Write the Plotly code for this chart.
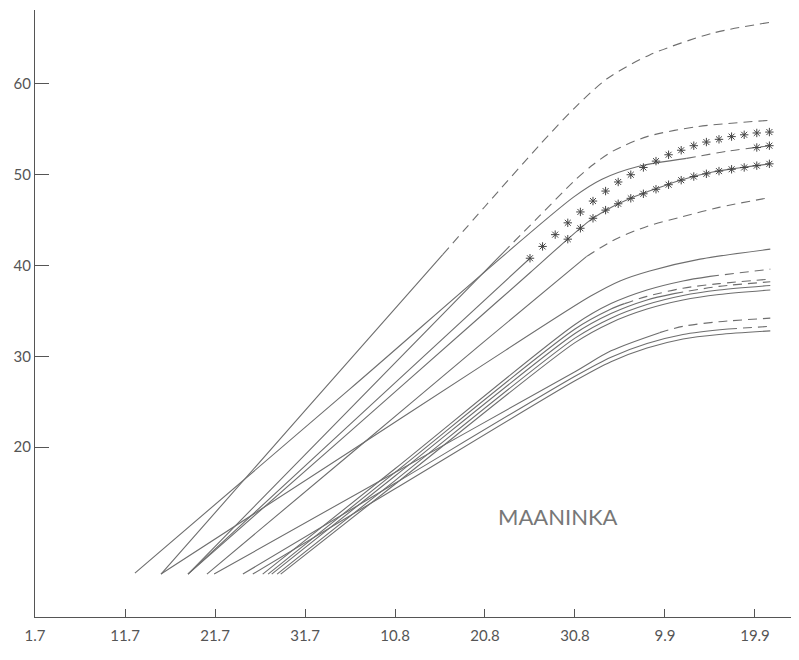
import plotly.graph_objects as go

# x = days since 1.7
X_TICK_DAYS = [0, 10, 20, 30, 40, 50, 60, 70, 80]
X_TICK_LABELS = ["1.7", "11.7", "21.7", "31.7", "10.8", "20.8", "30.8", "9.9", "19.9"]
Y_TICKS = [20, 30, 40, 50, 60]

L1_DAYS = [14.0, 30.0, 45.3, 50.0, 56.0, 60.0, 63.6, 68.3, 75.3, 81.7]
L1_VALS = [6.0, 24.0, 41.2, 46.5, 53.2, 57.4, 60.6, 63.2, 65.6, 66.8]
L2_DAYS = [17.0, 35.0, 52.0, 56.0, 60.0, 62.0, 64.2, 68.0, 73.6, 81.7]
L2_VALS = [6.0, 24.2, 41.4, 45.4, 49.4, 51.1, 52.6, 54.2, 55.3, 56.0]
L3_DAYS = [17.0, 35.0, 55.0]
L3_VALS = [6.0, 22.5, 40.8]
L4_DAYS = [11.1, 35.0, 59.8, 63.0, 67.0, 72.4, 77.0, 81.7]
L4_VALS = [6.1, 26.4, 47.5, 49.5, 50.9, 51.8, 52.6, 53.2]
L5_DAYS = [17.0, 35.0, 49.4, 55.0, 58.5, 61.7, 64.0, 66.4, 68.0, 71.7, 75.3, 81.7]
L5_VALS = [6.0, 21.7, 34.3, 39.2, 42.3, 45.0, 46.4, 47.5, 48.1, 49.4, 50.3, 51.2]
L6_DAYS = [19.1, 35.0, 49.4, 61.3, 64.5, 68.0, 72.0, 76.0, 81.7]
L6_VALS = [6.0, 19.2, 31.2, 41.0, 42.9, 44.3, 45.4, 46.4, 47.5]
B1_DAYS = [14.0, 35.0, 49.4, 61.7, 65.0, 68.3, 73.9, 81.7]
B1_VALS = [6.0, 19.5, 28.8, 36.6, 38.3, 39.4, 40.7, 41.8]
B2_DAYS = [25.3, 40.0, 60.0, 64.0, 68.0, 72.0, 75.0, 81.7]
B2_VALS = [6.0, 17.6, 33.5, 35.8, 37.3, 38.3, 38.8, 39.6]
B3_DAYS = [25.9, 40.0, 60.0, 64.0, 65.5, 68.0, 72.0, 76.0, 81.7]
B3_VALS = [6.0, 17.2, 33.0, 35.2, 35.8, 36.6, 37.5, 38.0, 38.5]
B4_DAYS = [26.3, 40.0, 60.0, 64.0, 68.0, 71.0, 76.0, 81.7]
B4_VALS = [6.0, 16.8, 32.5, 34.7, 36.2, 36.9, 37.7, 38.2]
B5_DAYS = [26.9, 40.0, 60.0, 64.0, 68.0, 72.0, 76.0, 81.7]
B5_VALS = [6.0, 16.3, 32.0, 34.2, 35.7, 36.7, 37.3, 37.8]
B6_DAYS = [27.3, 40.0, 60.0, 64.0, 68.0, 72.0, 76.0, 81.7]
B6_VALS = [6.0, 15.9, 31.5, 33.7, 35.2, 36.2, 36.8, 37.3]
C1_DAYS = [19.9, 40.0, 60.0, 64.0, 69.4, 72.0, 76.0, 81.7]
C1_VALS = [6.0, 17.2, 28.3, 30.6, 32.6, 33.3, 33.8, 34.2]
C2_DAYS = [23.1, 40.0, 60.0, 64.0, 68.0, 72.0, 77.0, 81.7]
C2_VALS = [6.0, 16.0, 27.8, 29.9, 31.4, 32.4, 33.0, 33.3]
C3_DAYS = [24.2, 40.0, 60.0, 64.0, 68.0, 72.0, 76.0, 81.7]
C3_VALS = [6.0, 15.4, 27.3, 29.4, 30.9, 31.9, 32.4, 32.8]

SA_DAYS = [55.0, 56.4, 57.8, 59.2, 60.6, 62.0, 63.4, 64.8, 66.2, 67.6, 69.0, 70.4,
           71.8, 73.2, 74.6, 76.0, 77.4, 78.8, 80.2, 81.6]
SA_VALS = [40.8, 42.1, 43.4, 44.7, 45.9, 47.1, 48.2, 49.2, 50.0, 50.8, 51.5, 52.2,
           52.7, 53.2, 53.6, 53.9, 54.2, 54.4, 54.6, 54.7]
SB_DAYS = [59.2, 60.6, 62.0, 63.4, 64.8, 66.2, 67.6, 69.0, 70.4, 71.8, 73.2, 74.6,
           76.0, 77.4, 78.8, 80.2, 81.6]
SB_VALS = [42.9, 44.1, 45.2, 46.1, 46.8, 47.4, 47.9, 48.4, 48.9, 49.4, 49.8, 50.1,
           50.4, 50.6, 50.8, 51.0, 51.2]
SC_DAYS = [80.2, 81.6]
SC_VALS = [53.0, 53.2]

CURVES = [
    ("L1", L1_DAYS, L1_VALS), ("L2", L2_DAYS, L2_VALS), ("L3", L3_DAYS, L3_VALS),
    ("L4", L4_DAYS, L4_VALS), ("L5", L5_DAYS, L5_VALS), ("L6", L6_DAYS, L6_VALS),
    ("B1", B1_DAYS, B1_VALS), ("B2", B2_DAYS, B2_VALS), ("B3", B3_DAYS, B3_VALS),
    ("B4", B4_DAYS, B4_VALS), ("B5", B5_DAYS, B5_VALS), ("B6", B6_DAYS, B6_VALS),
    ("C1", C1_DAYS, C1_VALS), ("C2", C2_DAYS, C2_VALS), ("C3", C3_DAYS, C3_VALS),
]
# index of the point where the curve turns into a dashed line
DASH_FROM = {"L1": 2, "L2": 2, "L4": 5, "L6": 3, "B2": 6, "B3": 4, "B4": 5, "C1": 4, "C2": 6}

LINE_COLOR = "#6e6e6e"
fig = go.Figure()
for name, xs, ys in CURVES:
    k = DASH_FROM.get(name)
    if k is None:
        parts = [(xs, ys, "solid")]
    else:
        parts = [(xs[:k + 1], ys[:k + 1], "solid"), (xs[k:], ys[k:], "9px,6px")]
    for px, py, dash in parts:
        fig.add_trace(go.Scatter(
            x=px, y=py, mode="lines",
            line=dict(color=LINE_COLOR, width=1.1, dash=dash, shape="spline", smoothing=0.8),
            hoverinfo="skip", showlegend=False))

for sx, sy in [(SA_DAYS, SA_VALS), (SB_DAYS, SB_VALS), (SC_DAYS, SC_VALS)]:
    fig.add_trace(go.Scatter(
        x=sx, y=sy, mode="markers",
        marker=dict(symbol="asterisk-open", size=7, color="#444",
                    line=dict(color="#444", width=1.0)),
        hoverinfo="skip", showlegend=False))

fig.add_annotation(x=58.1, y=12.3, xref="x", yref="y", text="MAANINKA", showarrow=False,
                   font=dict(family="Lato", size=22, color="#777"))

axis_font = dict(family="Lato", size=15, color="#555")
# the page body has an 8px margin, so the figure is sized to fill the rest of the window
fig.update_layout(
    width=791, height=652,
    margin=dict(l=27, r=0, t=2, b=43),
    paper_bgcolor="white", plot_bgcolor="white",
    xaxis=dict(range=[0, 84.89], tickvals=X_TICK_DAYS, ticktext=X_TICK_LABELS,
               ticks="inside", ticklen=8, tickcolor="#555", showline=True,
               linecolor="#555", linewidth=1, showgrid=False, zeroline=False,
               tickfont=axis_font, automargin=False, ticklabelstandoff=5),
    yaxis=dict(range=[1.27, 68.15], tickvals=Y_TICKS, ticks="inside", ticklen=14,
               tickcolor="#555", showline=True, linecolor="#555", linewidth=1,
               showgrid=False, zeroline=False, tickfont=axis_font, automargin=False),
)

fig.write_html("out.html")
